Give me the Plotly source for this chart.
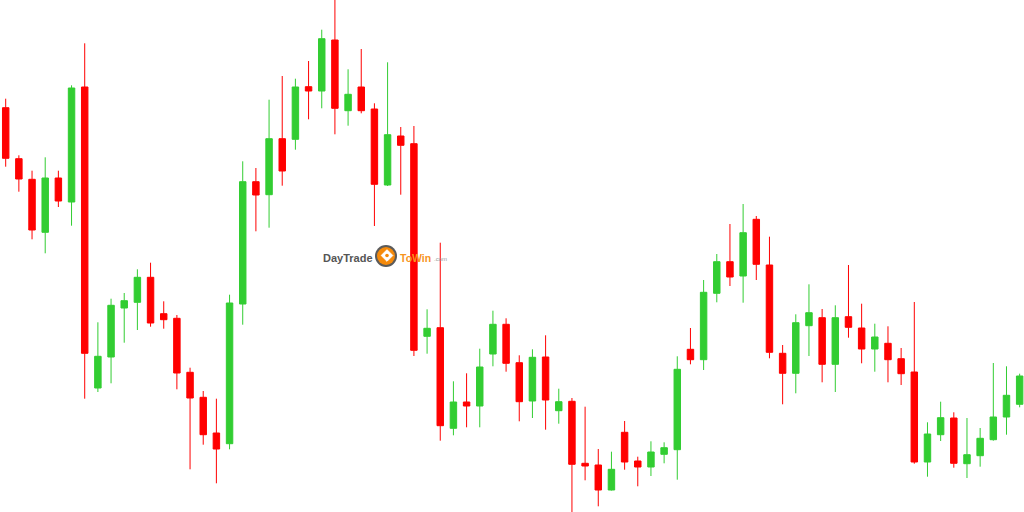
import plotly.graph_objects as go

# ---- data (price units) ----
idx = list(range(78))
opens = [404.3, 353.3, 332.7, 279.7, 334.0, 310.0, 425.0, 124.0, 155.0, 204.0,
         209.7, 234.7, 198.3, 193.7, 139.7, 114.7, 79.0, 68.3, 208.0, 330.3,
         317.3, 373.3, 372.7, 425.3, 421.0, 472.0, 401.3, 425.0, 403.0, 327.0,
         376.0, 368.3, 175.7, 184.3, 83.7, 110.0, 106.0, 158.0, 187.7, 149.3,
         111.0, 155.0, 101.3, 110.7, 48.7, 47.0, 22.0, 79.7, 51.0, 45.0,
         57.7, 62.3, 162.7, 152.3, 218.7, 250.3, 236.0, 292.7, 247.0, 158.7,
         138.7, 186.3, 194.3, 147.7, 195.3, 184.0, 163.0, 168.7, 153.3, 140.0,
         50.0, 77.3, 94.0, 48.3, 56.3, 72.3, 95.0, 107.7]
highs = [413.3, 356.7, 341.3, 354.7, 341.3, 426.7, 468.7, 189.7, 213.3, 219.0,
         242.7, 249.3, 210.7, 197.0, 144.3, 121.0, 113.3, 217.3, 350.7, 344.0,
         412.3, 436.0, 433.3, 451.0, 482.3, 515.0, 442.7, 463.0, 408.7, 449.7,
         385.0, 386.0, 202.7, 269.3, 130.7, 138.7, 163.3, 201.3, 193.7, 156.7,
         162.7, 176.7, 123.3, 114.0, 105.3, 63.0, 60.3, 91.0, 55.3, 70.7,
         69.7, 155.7, 184.0, 232.0, 258.0, 288.0, 308.0, 296.0, 275.3, 167.0,
         197.7, 227.7, 203.0, 206.7, 247.0, 208.3, 188.3, 185.7, 164.0, 210.0,
         89.7, 110.3, 99.7, 94.0, 84.0, 149.0, 145.7, 138.3]
lows = [345.3, 320.3, 272.7, 258.7, 305.0, 286.3, 113.3, 120.0, 128.7, 169.3,
        182.0, 185.3, 183.3, 122.7, 42.7, 67.3, 28.7, 62.7, 187.3, 280.7,
        284.3, 326.3, 362.3, 392.7, 403.7, 377.7, 386.3, 398.7, 286.0, 326.0,
        317.3, 156.0, 158.3, 71.3, 76.7, 84.7, 84.7, 145.7, 140.3, 90.7,
        94.0, 82.3, 88.3, -3.0, 31.7, 5.7, 21.5, 42.3, 25.7, 36.0,
        48.7, 32.3, 147.7, 142.0, 209.7, 226.0, 209.3, 232.0, 153.7, 107.7,
        118.7, 156.0, 129.7, 120.0, 174.3, 148.7, 140.3, 129.7, 127.0, 48.3,
        35.3, 71.0, 44.3, 34.0, 45.3, 71.3, 77.3, 104.7]
closes = [353.7, 333.0, 282.0, 334.0, 311.0, 424.0, 158.7, 155.7, 206.7, 211.3,
          234.7, 189.0, 192.3, 139.0, 114.0, 77.3, 63.0, 209.0, 330.3, 317.0,
          373.3, 341.0, 425.0, 421.0, 473.3, 403.7, 417.7, 401.3, 327.7, 377.3,
          366.7, 161.7, 183.7, 86.3, 110.0, 106.0, 145.0, 187.7, 148.7, 110.3,
          154.7, 112.0, 110.3, 47.7, 46.0, 22.0, 42.7, 50.0, 45.0, 60.0,
          64.3, 142.7, 152.3, 219.7, 250.3, 235.0, 279.3, 247.7, 159.7, 138.7,
          189.3, 199.3, 147.7, 194.3, 184.7, 163.0, 175.0, 152.3, 138.3, 50.0,
          78.0, 94.3, 48.7, 57.3, 73.7, 95.0, 116.7, 136.0]

logo_left = "DayTrade"
logo_right = "ToWin"
logo_tld = ".com"

W, H = 1024, 512
GREEN = "#32CD32"
RED = "#FF0000"

fig = go.Figure(go.Candlestick(
    x=idx, open=opens, high=highs, low=lows, close=closes,
    increasing=dict(line=dict(color=GREEN, width=1), fillcolor=GREEN),
    decreasing=dict(line=dict(color=RED, width=1), fillcolor=RED),
    whiskerwidth=0, hoverinfo="skip",
))

def px(xp):
    return xp / W

def py(yp):
    return 1 - yp / H

# logo icon
cx, cy = 386, 256
fig.add_shape(type="circle", xref="paper", yref="paper",
              x0=px(cx - 11), x1=px(cx + 11), y0=py(cy + 11), y1=py(cy - 11),
              fillcolor="#5b5b5b", line=dict(width=0))
fig.add_shape(type="circle", xref="paper", yref="paper",
              x0=px(cx - 9), x1=px(cx + 9), y0=py(cy + 9), y1=py(cy - 9),
              fillcolor="#f58a0b", line=dict(width=0))
d = 5.8
pts = [(cx + 1, cy - d - 0.5), (cx + d + 1, cy - 0.5), (cx + 1, cy + d - 0.5), (cx - d + 1, cy - 0.5)]
path = "M " + " L ".join(f"{px(a)},{py(b)}" for a, b in pts) + " Z"
fig.add_shape(type="path", xref="paper", yref="paper", path=path,
              fillcolor="white", line=dict(color="white", width=1))
fig.add_shape(type="circle", xref="paper", yref="paper",
              x0=px(cx - 0.8), x1=px(cx + 2.8), y0=py(cy + 1.3), y1=py(cy - 2.3),
              fillcolor="#f58a0b", line=dict(width=0))

fig.add_annotation(x=px(374.5), y=py(257.5), xref="paper", yref="paper",
                   text=f"<b>{logo_left}</b>", showarrow=False, xanchor="right", yanchor="middle",
                   font=dict(family="Liberation Sans, Arial, sans-serif", size=11, color="#555555"))
fig.add_annotation(x=px(397.5), y=py(257.5), xref="paper", yref="paper",
                   text=f"<b>{logo_right}</b>", showarrow=False, xanchor="left", yanchor="middle",
                   font=dict(family="Liberation Sans, Arial, sans-serif", size=10.5, color="#f7941d"))
fig.add_annotation(x=px(431.5), y=py(259), xref="paper", yref="paper",
                   text=logo_tld, showarrow=False, xanchor="left", yanchor="middle",
                   font=dict(family="Liberation Sans, Arial, sans-serif", size=6, color="#9a9a9a"))

fig.update_layout(
    width=W, height=H, margin=dict(l=0, r=0, t=0, b=0),
    paper_bgcolor="white", plot_bgcolor="white", showlegend=False,
    xaxis=dict(range=[-0.433, 77.33], visible=False, rangeslider=dict(visible=False), fixedrange=True),
    yaxis=dict(range=[0, 512], visible=False, fixedrange=True),
)

fig.write_html("out.html", config={"displayModeBar": False},
               post_script="document.body.style.margin='0';document.body.style.overflow='hidden';")
